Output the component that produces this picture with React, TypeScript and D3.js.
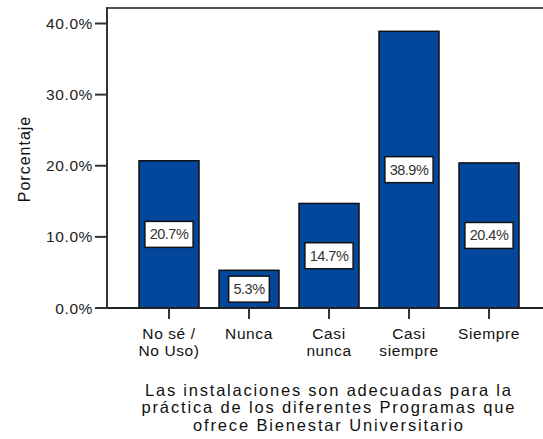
import React, { useEffect, useRef } from "react";
import * as d3 from "d3";

const categories = ["No sé /\nNo Uso)", "Nunca", "Casi\nnunca", "Casi\nsiempre", "Siempre"];
const values = [20.7, 5.3, 14.7, 38.9, 20.4];
const yTicks = [0, 10, 20, 30, 40];
const yTickLabels = ["0.0%", "10.0%", "20.0%", "30.0%", "40.0%"];
const titleLines = [
  "Las instalaciones son adecuadas para la",
  "práctica de los diferentes Programas que",
  "ofrece Bienestar Universitario",
];
const yLabel = "Porcentaje";

const W = 543;
const H = 439;
const FONT = "'Liberation Sans', Arial, sans-serif";
const BAR = "#03479c";

export default function App() {
  const ref = useRef<SVGSVGElement>(null);

  useEffect(() => {
    const svg = d3.select(ref.current);
    svg.selectAll("*").remove();

    const plotLeft = 107;
    const plotTop = 8;
    const y = d3.scaleLinear().domain([0, 40]).range([308, 23.5]);
    const x = d3
      .scaleBand<string>()
      .domain(categories)
      .range([129, 529])
      .paddingInner(0.25)
      .paddingOuter(0.125);
    const y0 = y(0);

    svg.append("rect").attr("width", W).attr("height", H).attr("fill", "#fff");

    // frame
    svg
      .append("line")
      .attr("x1", plotLeft)
      .attr("x2", W + 5)
      .attr("y1", plotTop)
      .attr("y2", plotTop)
      .attr("stroke", "#555")
      .attr("stroke-width", 2);

    // bars
    const g = svg.append("g");
    g.selectAll("rect.bar")
      .data(values)
      .join("rect")
      .attr("class", "bar")
      .attr("x", (_, i) => x(categories[i])!)
      .attr("width", x.bandwidth())
      .attr("y", (d) => y(d))
      .attr("height", (d) => y0 - y(d))
      .attr("fill", BAR)
      .attr("stroke", "#111")
      .attr("stroke-width", 1.5);

    // axes lines
    svg
      .append("line")
      .attr("x1", plotLeft)
      .attr("x2", plotLeft)
      .attr("y1", plotTop - 1)
      .attr("y2", y0)
      .attr("stroke", "#333")
      .attr("stroke-width", 2);
    svg
      .append("line")
      .attr("x1", plotLeft)
      .attr("x2", W + 5)
      .attr("y1", y0)
      .attr("y2", y0)
      .attr("stroke", "#222")
      .attr("stroke-width", 2);

    // y ticks
    yTicks.forEach((t, i) => {
      svg
        .append("line")
        .attr("x1", 95)
        .attr("x2", plotLeft)
        .attr("y1", y(t))
        .attr("y2", y(t))
        .attr("stroke", "#333")
        .attr("stroke-width", 2);
      svg
        .append("text")
        .attr("x", 93)
        .attr("y", y(t) + 5.5)
        .attr("text-anchor", "end")
        .attr("font-family", FONT)
        .attr("font-size", 15.5)
        .attr("letter-spacing", 0.6)
        .attr("fill", "#222")
        .text(yTickLabels[i]);
    });

    // x ticks and labels
    categories.forEach((c) => {
      const cx = x(c)! + x.bandwidth() / 2;
      svg
        .append("line")
        .attr("x1", cx)
        .attr("x2", cx)
        .attr("y1", y0)
        .attr("y2", y0 + 11)
        .attr("stroke", "#333")
        .attr("stroke-width", 2);
      const lines = c.split("\n");
      const t = svg
        .append("text")
        .attr("text-anchor", "middle")
        .attr("font-family", FONT)
        .attr("font-size", 15.5)
        .attr("letter-spacing", 0.6)
        .attr("fill", "#111");
      lines.forEach((l, k) => {
        t.append("tspan")
          .attr("x", cx)
          .attr("y", 339 + k * 17)
          .text(l);
      });
    });

    // value labels
    values.forEach((v, i) => {
      const cx = x(categories[i])! + x.bandwidth() / 2;
      const cy = (y(v) + y0) / 2;
      const lg = svg.append("g");
      const rect = lg.append("rect");
      const txt = lg
        .append("text")
        .attr("x", cx)
        .attr("y", cy + 5)
        .attr("text-anchor", "middle")
        .attr("font-family", FONT)
        .attr("font-size", 14.5)
        .attr("letter-spacing", -0.5)
        .attr("fill", "#333")
        .text(v.toFixed(1) + "%");
      const bb = (txt.node() as SVGTextElement).getBBox();
      const bw = bb.width + 9;
      const bh = 26;
      rect
        .attr("x", cx - bw / 2)
        .attr("y", cy - bh / 2)
        .attr("width", bw)
        .attr("height", bh)
        .attr("fill", "#fff")
        .attr("stroke", "#111")
        .attr("stroke-width", 1.5);
    });

    // y label
    svg
      .append("text")
      .attr("transform", `translate(30,159) rotate(-90)`)
      .attr("text-anchor", "middle")
      .attr("font-family", FONT)
      .attr("font-size", 16)
      .attr("letter-spacing", 1)
      .attr("fill", "#111")
      .text(yLabel);

    // title
    const tw = [366, 373, 270];
    titleLines.forEach((l, k) => {
      svg
        .append("text")
        .attr("x", 328)
        .attr("y", 395.5 + k * 17.5)
        .attr("text-anchor", "middle")
        .attr("font-family", FONT)
        .attr("font-size", 16.5)
        .attr("textLength", tw[k])
        .attr("lengthAdjust", "spacing")
        .attr("fill", "#111")
        .text(l);
    });
  }, []);

  return (
    <svg
      ref={ref}
      width={W}
      height={H}
      style={{ position: "absolute", left: 0, top: 0, display: "block" }}
    />
  );
}
